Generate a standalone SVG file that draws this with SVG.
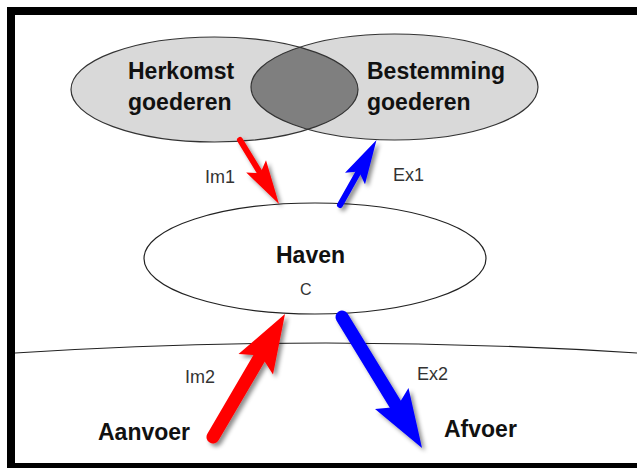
<svg xmlns="http://www.w3.org/2000/svg" width="637" height="468" viewBox="0 0 637 468">
<style>
.bg{fill:#ffffff}
.frame{fill:none;stroke:#000;stroke-width:8}
.outline{fill:none;stroke:#333;stroke-width:1.2}
.lightfill{fill:#d9d9d9}
.lens{fill:#7f7f7f}
.haven{fill:#fff;stroke:#222;stroke-width:1.2}
.horizon{fill:none;stroke:#222;stroke-width:1.2}
.big{font-family:"Liberation Sans",Arial,sans-serif;font-weight:bold;font-size:23px;fill:#111}
.small{font-family:"Liberation Sans",Arial,sans-serif;font-size:18px;fill:#333}
.red{fill:#ff0000;stroke:#ff0000}
.blue{fill:#0000ff;stroke:#0000ff}
.shaft{fill:none;stroke-linecap:round}
.head{stroke:none}
</style>
<defs>
<clipPath id="clipRight"><ellipse cx="394.5" cy="87" rx="143.5" ry="53"/></clipPath>
<filter id="shadow" x="-30%" y="-30%" width="160%" height="160%">
<feDropShadow dx="3" dy="3" stdDeviation="2.2" flood-color="#000" flood-opacity="0.45"/>
</filter>
</defs>
<rect class="bg" x="0" y="0" width="637" height="468"/>
<path class="horizon" d="M15,353 Q326,333 637,353"/>
<g id="herkomst">
<ellipse class="lightfill" cx="214.5" cy="89.5" rx="143.5" ry="52.5"/>
<text class="big" x="128" y="79">Herkomst</text>
<text class="big" x="128" y="110">goederen</text>
</g>
<g id="bestemming">
<ellipse class="lightfill" cx="394.5" cy="87" rx="143.5" ry="53"/>
<text class="big" x="367" y="79">Bestemming</text>
<text class="big" x="367" y="110">goederen</text>
</g>
<g id="overlap">
<ellipse class="lens" cx="214.5" cy="89.5" rx="143.5" ry="52.5" clip-path="url(#clipRight)"/>
<ellipse class="outline" cx="214.5" cy="89.5" rx="143.5" ry="52.5"/>
<ellipse class="outline" cx="394.5" cy="87" rx="143.5" ry="53"/>
</g>
<g id="haven">
<ellipse class="haven" cx="315" cy="258.5" rx="171" ry="55.5"/>
<text class="big" x="276" y="263">Haven</text>
<text class="small" x="300" y="295" style="font-size:16px">C</text>
</g>
<g id="connectors">
<g id="im1" class="red" filter="url(#shadow)">
<line class="shaft" x1="240" y1="140" x2="260.3" y2="173.3" stroke-width="6"/>
<polygon class="head" points="279,204 246.2,172.5 260.3,173.3 266,160.3"/>
</g>
<g id="ex1" class="blue" filter="url(#shadow)">
<line class="shaft" x1="340" y1="205" x2="358.9" y2="171.4" stroke-width="6"/>
<polygon class="head" points="376.5,140 365,184.2 358.9,171.4 345,172.7"/>
</g>
<g id="im2" class="red" filter="url(#shadow)">
<line class="shaft" x1="213" y1="437" x2="260.8" y2="355.4" stroke-width="13"/>
<polygon class="head" points="285,314 273,374.5 260.8,355.4 238.5,354"/>
</g>
<g id="ex2" class="blue" filter="url(#shadow)">
<line class="shaft" x1="342" y1="317" x2="397" y2="407" stroke-width="13"/>
<polygon class="head" points="422,448 375,409 397,407 408.5,388"/>
</g>
<text class="small" x="205" y="183">Im1</text>
<text class="small" x="393" y="181">Ex1</text>
<text class="small" x="185" y="383">Im2</text>
<text class="small" x="417" y="380">Ex2</text>
</g>
<text class="big" x="98" y="440">Aanvoer</text>
<text class="big" x="444" y="437">Afvoer</text>
<rect class="frame" x="11" y="11" width="640" height="456"/>
</svg>
